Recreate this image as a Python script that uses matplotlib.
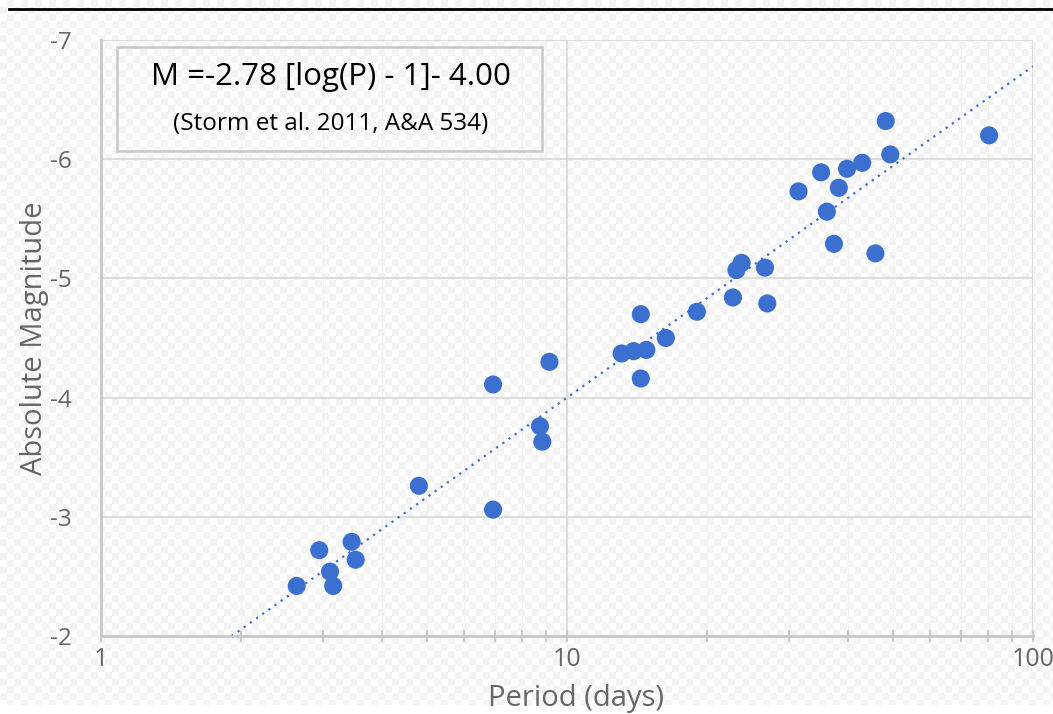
import numpy as np
import matplotlib.pyplot as plt
from matplotlib.ticker import FixedLocator, NullFormatter

plt.rcParams['font.family'] = ['Open Sans', 'DejaVu Sans']

# Cepheid periods (days) and absolute magnitudes
period = [2.63, 2.94, 3.10, 3.15, 3.45, 3.52, 4.81, 6.94, 6.94, 8.75, 8.85, 9.17,
          13.1, 13.9, 14.4, 14.4, 14.8, 16.3, 19.0, 22.7, 23.1, 23.7, 26.6, 26.9,
          31.4, 35.1, 36.1, 37.4, 38.3, 39.9, 43.0, 45.9, 48.3, 49.4, 80.5]
abs_mag = [-2.42, -2.72, -2.54, -2.42, -2.79, -2.64, -3.26, -4.11, -3.06, -3.76, -3.63, -4.30,
           -4.37, -4.39, -4.70, -4.16, -4.40, -4.50, -4.72, -4.84, -5.07, -5.13, -5.09, -4.79,
           -5.73, -5.89, -5.56, -5.29, -5.76, -5.92, -5.97, -5.21, -6.32, -6.04, -6.20]

# period-luminosity relation
slope = -2.78
zero_point = -4.00

y_ticks = [-7, -6, -5, -4, -3, -2]
x_ticks = [1, 10, 100]

blue = '#3b6fd0'
grey_text = '#666666'

fig = plt.figure(figsize=(10.53, 7.14), dpi=100)

# light checkered backdrop
W, H = 1053, 714
sq = 7
yy, xx = np.mgrid[0:H, 0:W]
checker = ((xx // sq + yy // sq) % 2).astype(float)
bg = np.where(checker[..., None] > 0, 0.955, 1.0) * np.ones((H, W, 3))
bg[H - 9:, :, :] = 1.0
fig.figimage(bg, 0, 0, zorder=-10)
fig.add_artist(plt.Line2D([0.009, 1.0], [1 - 8.5 / H] * 2, transform=fig.transFigure,
                          color='black', lw=2))

ax = fig.add_axes([101 / W, 1 - 636 / H, (1033 - 101) / W, (636 - 40) / H])
ax.patch.set_alpha(0)

ax.set_xscale('log')
ax.set_xlim(1, 100)
ax.set_ylim(-2, -7)

ax.xaxis.set_major_locator(FixedLocator(x_ticks))
minor = [m * d for d in (1, 10) for m in range(2, 10)]
ax.xaxis.set_minor_locator(FixedLocator(minor))
ax.xaxis.set_minor_formatter(NullFormatter())
ax.set_xticklabels([str(v) for v in x_ticks])
ax.set_yticks(y_ticks)
ax.set_yticklabels([str(v) for v in y_ticks])

ax.grid(True, which='major', color='#dcdcdc', lw=1.5)
ax.grid(True, which='minor', axis='x', color='#f1f1f1', lw=1.0)
ax.set_axisbelow(True)

for side in ('top', 'right'):
    ax.spines[side].set_visible(False)
for side in ('left', 'bottom'):
    ax.spines[side].set_color('#c8c8c8')
    ax.spines[side].set_linewidth(2)

ax.tick_params(axis='x', which='both', direction='inout', color='#c8c8c8', width=1.5,
               length=8, labelsize=18, labelcolor=grey_text, pad=4)
ax.tick_params(axis='y', length=0, labelsize=17.5, labelcolor=grey_text, pad=21)

ax.set_xlabel('Period (days)', fontsize=21, color=grey_text)
ax.xaxis.set_label_coords(0.51, -0.08)
ax.set_ylabel('Absolute Magnitude', fontsize=21, color=grey_text)
ax.yaxis.set_label_coords(-0.056, 0.5)

# fitted relation
p_line = np.logspace(0, 2, 200)
m_line = slope * (np.log10(p_line) - 1) + zero_point
ax.plot(p_line, m_line, color=blue, lw=1.6, ls=(0, (1, 2.4)), zorder=2)

ax.scatter(period, abs_mag, s=170, color=blue, edgecolors='none', zorder=3)

# equation box
box = plt.Rectangle((117 / W, 1 - 151 / H), (542 - 117) / W, (151 - 47) / H,
                    transform=fig.transFigure, facecolor='none', edgecolor='#c8c8c8', lw=1.8)
fig.add_artist(box)
fig.text(331 / W, 1 - 77 / H, 'M =-2.78 [log(P) - 1]- 4.00', ha='center', va='center',
         fontsize=22.5, color='black')
fig.text(331 / W, 1 - 124 / H, '(Storm et al. 2011, A&A 534)', ha='center', va='center',
         fontsize=17.5, color='black')

fig.savefig('out.png', dpi=100)
